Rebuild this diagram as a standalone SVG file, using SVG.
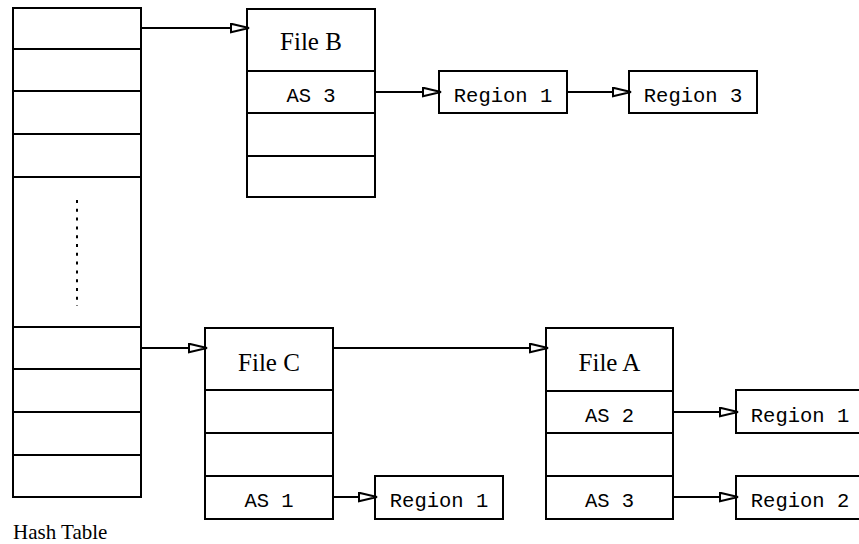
<svg xmlns="http://www.w3.org/2000/svg" width="859" height="544" viewBox="0 0 859 544">
  <style>
    .box { fill: #fff; stroke: #000; stroke-width: 2; }
    .sep { stroke: #000; stroke-width: 2; }
    .link { fill: none; stroke: #000; stroke-width: 2; }
    .title { font-family: "Liberation Serif", "Times New Roman", serif; font-size: 25px; text-anchor: middle; fill: #000; }
    .mono { font-family: "Liberation Mono", "Courier New", monospace; font-size: 20.5px; text-anchor: middle; fill: #000; }
    .caption { font-family: "Liberation Serif", "Times New Roman", serif; font-size: 21px; fill: #000; }
  </style>
  <defs>
    <marker id="open-arrow" markerUnits="userSpaceOnUse" viewBox="0 0 20 11" markerWidth="20" markerHeight="11" refX="19" refY="5.5" orient="auto">
      <path d="M1,1.2 L19,5.5 L1,9.8 Z" fill="#fff" stroke="#000" stroke-width="2"/>
    </marker>
  </defs>

  <rect width="859" height="544" fill="#fff"/>

  <!-- Hash table buckets -->
  <g id="hash-table">
    <rect class="box" x="13" y="8" width="128" height="489"/>
    <line class="sep" x1="13" y1="49" x2="141" y2="49"/>
    <line class="sep" x1="13" y1="91" x2="141" y2="91"/>
    <line class="sep" x1="13" y1="134" x2="141" y2="134"/>
    <line class="sep" x1="13" y1="177" x2="141" y2="177"/>
    <line class="sep" x1="13" y1="327" x2="141" y2="327"/>
    <line class="sep" x1="13" y1="369" x2="141" y2="369"/>
    <line class="sep" x1="13" y1="412" x2="141" y2="412"/>
    <line class="sep" x1="13" y1="455" x2="141" y2="455"/>
    <line x1="77" y1="200" x2="77" y2="306" stroke="#000" stroke-width="2" stroke-dasharray="3,5.8"/>
    <text class="caption" x="13" y="539">Hash Table</text>
  </g>

  <!-- File B -->
  <g id="file-b">
    <rect class="box" x="247" y="9" width="128" height="188"/>
    <line class="sep" x1="247" y1="71" x2="375" y2="71"/>
    <line class="sep" x1="247" y1="113" x2="375" y2="113"/>
    <line class="sep" x1="247" y1="156" x2="375" y2="156"/>
    <text class="title" x="311" y="50">File B</text>
    <text class="mono" x="311" y="102">AS 3</text>
  </g>

  <g id="b-region-1">
    <rect class="box" x="439" y="71" width="128" height="42"/>
    <text class="mono" x="503" y="102">Region 1</text>
  </g>

  <g id="b-region-3">
    <rect class="box" x="629" y="71" width="128" height="42"/>
    <text class="mono" x="693" y="102">Region 3</text>
  </g>

  <!-- File C -->
  <g id="file-c">
    <rect class="box" x="205" y="328" width="128" height="191"/>
    <line class="sep" x1="205" y1="390" x2="333" y2="390"/>
    <line class="sep" x1="205" y1="433" x2="333" y2="433"/>
    <line class="sep" x1="205" y1="476" x2="333" y2="476"/>
    <text class="title" x="269" y="371">File C</text>
    <text class="mono" x="269" y="507">AS 1</text>
  </g>

  <g id="c-region-1">
    <rect class="box" x="375" y="476" width="128" height="43"/>
    <text class="mono" x="439" y="507">Region 1</text>
  </g>

  <!-- File A -->
  <g id="file-a">
    <rect class="box" x="546" y="328" width="127" height="191"/>
    <line class="sep" x1="546" y1="391" x2="673" y2="391"/>
    <line class="sep" x1="546" y1="433" x2="673" y2="433"/>
    <line class="sep" x1="546" y1="476" x2="673" y2="476"/>
    <text class="title" x="609.5" y="371">File A</text>
    <text class="mono" x="609.5" y="422">AS 2</text>
    <text class="mono" x="609.5" y="507">AS 3</text>
  </g>

  <g id="a-region-1">
    <rect class="box" x="736" y="390" width="128" height="43"/>
    <text class="mono" x="800" y="422">Region 1</text>
  </g>

  <g id="a-region-2">
    <rect class="box" x="736" y="476" width="128" height="43"/>
    <text class="mono" x="800" y="507">Region 2</text>
  </g>

  <!-- Pointers -->
  <g id="connectors">
    <line class="link" x1="141" y1="28" x2="249" y2="28" marker-end="url(#open-arrow)"/>
    <line class="link" x1="375" y1="92" x2="441" y2="92" marker-end="url(#open-arrow)"/>
    <line class="link" x1="567" y1="92" x2="631" y2="92" marker-end="url(#open-arrow)"/>
    <line class="link" x1="141" y1="348" x2="207" y2="348" marker-end="url(#open-arrow)"/>
    <line class="link" x1="333" y1="348" x2="548" y2="348" marker-end="url(#open-arrow)"/>
    <line class="link" x1="333" y1="497" x2="377" y2="497" marker-end="url(#open-arrow)"/>
    <line class="link" x1="673" y1="412" x2="738" y2="412" marker-end="url(#open-arrow)"/>
    <line class="link" x1="673" y1="497" x2="738" y2="497" marker-end="url(#open-arrow)"/>
  </g>
</svg>
